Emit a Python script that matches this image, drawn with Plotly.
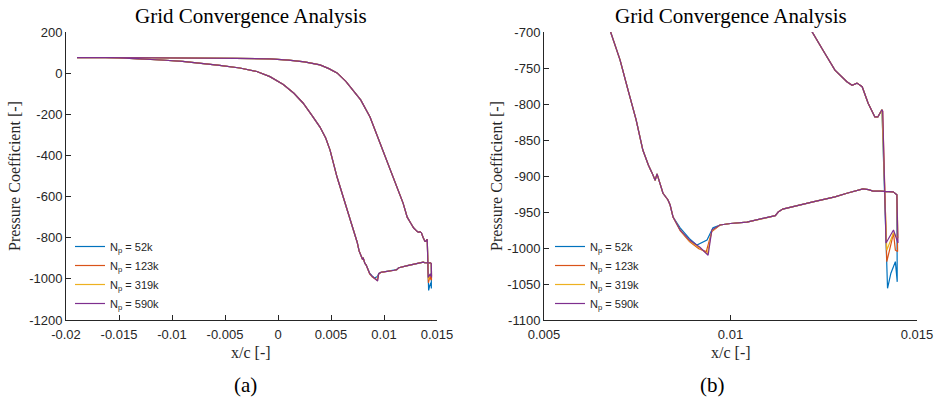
import plotly.graph_objects as go

# ---------------- data ----------------
SERIES_NAMES = ["N<sub>p</sub> = 52k", "N<sub>p</sub> = 123k", "N<sub>p</sub> = 319k", "N<sub>p</sub> = 590k"]
SERIES_COLORS = ["#0072BD", "#D95319", "#EDB120", "#7E2F8E"]

# lower branch, leading edge -> start of shock foot (shared by all grids)
A_FRONT_X = [-0.01896, -0.0175, -0.015, -0.0125, -0.011, -0.009, -0.0074, -0.0055, -0.0036, -0.002,
             -0.00076, 0.0005, 0.0015, 0.00236, 0.0032, 0.00396, 0.0045, 0.00491, 0.00557, 0.0062,
             0.0068, 0.00704, 0.00725, 0.00747, 0.00765, 0.0078, 0.0079, 0.00798, 0.00803, 0.00808,
             0.00819, 0.00832, 0.00838, 0.00846]
A_FRONT_CP = [75, 76, 74, 70, 64, 57, 49, 38, 25, 8,
              -17, -55, -98, -145, -205, -262, -315, -374, -505, -610,
              -700, -739, -780, -822, -864, -885, -896, -906, -897, -906,
              -924, -933, -940, -957]

# lower branch, shock region (grid dependent)
A_SHOCK_X = [
    [0.00865, 0.0089, 0.0091, 0.00937, 0.00953],
    [0.00865, 0.0089, 0.00915, 0.00935, 0.0095],
    [0.00865, 0.0089, 0.00918, 0.00938, 0.0095],
    [0.00865, 0.0089, 0.00918, 0.0094, 0.0095],
]
A_SHOCK_CP = [
    [-972, -987, -996, -989, -972],
    [-976, -991, -1001, -1005, -977],
    [-975, -990, -1000, -1008, -976],
    [-975, -989, -999, -1010, -975],
]

# lower branch, aft part (shared)
A_AFT_X = [0.00972, 0.0100, 0.01044, 0.01098, 0.0112, 0.01128, 0.0114, 0.01221, 0.0128, 0.01312,
           0.01355, 0.0137, 0.01382, 0.01401, 0.01425, 0.01436, 0.01446]
A_AFT_CP = [-968, -966, -964, -958, -955, -950, -946, -936, -929, -924,
            -918, -919, -921, -921, -921, -922, -926]

# trailing edge (grid dependent)
TE_X = [
    [0.01447, 0.01442, 0.0143, 0.01421],
    [0.01448, 0.01442, 0.01437, 0.0143, 0.01419],
    [0.01449, 0.01442, 0.01437, 0.01419],
    [0.01449, 0.01437, 0.01417],
]
TE_CP = [
    [-1047, -1019, -1035, -1056],
    [-1005, -1003, -979, -995, -1019],
    [-986, -983, -979, -1003],
    [-993, -975, -993],
]

# upper branch, trailing edge -> leading edge (shared)
B_X = [0.01408, 0.01406, 0.01395, 0.01387, 0.01369, 0.01353, 0.01339, 0.01326, 0.01312, 0.0128,
       0.0125, 0.01219, 0.0118, 0.01085, 0.0099, 0.00868, 0.0078, 0.00708, 0.0064, 0.00557,
       0.0048, 0.00396, 0.0025, 0.001, -0.00076, -0.004, -0.008, -0.012, -0.016, -0.01896]
B_CP = [-810, -808, -818, -818, -799, -776, -771, -774, -769, -753,
        -727, -700, -632, -505, -374, -213, -130, -82, -40, 1,
        22, 40, 55, 63, 69, 72, 74, 75, 76, 75]

X_TICKS_A = [-0.02, -0.015, -0.01, -0.005, 0, 0.005, 0.01, 0.015]
X_TICKTEXT_A = ["-0.02", "-0.015", "-0.01", "-0.005", "0", "0.005", "0.01", "0.015"]
Y_TICKS_A = [200, 0, -200, -400, -600, -800, -1000, -1200]
Y_TICKTEXT_A = ["200", "0", "-200", "-400", "-600", "-800", "-1000", "-1200"]
X_TICKS_B = [0.005, 0.01, 0.015]
X_TICKTEXT_B = ["0.005", "0.01", "0.015"]
Y_TICKS_B = [-700, -750, -800, -850, -900, -950, -1000, -1050, -1100]
Y_TICKTEXT_B = ["-700", "-750", "-800", "-850", "-900", "-950", "-1000", "-1050", "-1100"]

# ---------------- figure ----------------
W, H = 940, 406
fig = go.Figure()

for i, (name, col) in enumerate(zip(SERIES_NAMES, SERIES_COLORS)):
    xs = A_FRONT_X + A_SHOCK_X[i] + A_AFT_X + TE_X[i] + B_X
    ys = A_FRONT_CP + A_SHOCK_CP[i] + A_AFT_CP + TE_CP[i] + B_CP
    fig.add_trace(go.Scatter(x=xs, y=ys, mode="lines", name=name,
                             line=dict(color=col, width=1.2),
                             xaxis="x", yaxis="y", legend="legend"))
    fig.add_trace(go.Scatter(x=xs, y=ys, mode="lines", name=name,
                             line=dict(color=col, width=1.2),
                             xaxis="x2", yaxis="y2", legend="legend2"))

TICKFONT = dict(family="Liberation Sans, Arial, sans-serif", size=13, color="#262626")
SERIF = "Liberation Serif, Times New Roman, serif"
AX = dict(showgrid=False, zeroline=False, showline=True, linecolor="#262626", linewidth=1,
          ticks="inside", ticklen=5, tickcolor="#262626", tickfont=TICKFONT, mirror=False,
          automargin=False)

y_bot = 1 - 320 / H
y_top = 1 - 32 / H
LEGFONT = dict(family="Liberation Sans, Arial, sans-serif", size=11, color="#262626")

fig.update_layout(
    width=W, height=H,
    margin=dict(l=0, r=0, t=0, b=0, pad=0, autoexpand=False),
    paper_bgcolor="white", plot_bgcolor="white",
    xaxis=dict(domain=[66 / W, 437 / W], range=[-0.02, 0.015], tickvals=X_TICKS_A,
               ticktext=X_TICKTEXT_A, anchor="y", ticklabelstandoff=2, **AX),
    yaxis=dict(domain=[y_bot, y_top], range=[-1200, 200], tickvals=Y_TICKS_A,
               ticktext=Y_TICKTEXT_A, anchor="x", **AX),
    xaxis2=dict(domain=[544 / W, 917 / W], range=[0.005, 0.015], tickvals=X_TICKS_B,
                ticktext=X_TICKTEXT_B, anchor="y2", ticklabelstandoff=2, **AX),
    yaxis2=dict(domain=[y_bot, y_top], range=[-1100, -700], tickvals=Y_TICKS_B,
                ticktext=Y_TICKTEXT_B, anchor="x2", **AX),
    legend=dict(x=70 / W, y=1 - 232 / H, xanchor="left", yanchor="top",
                bgcolor="rgba(0,0,0,0)", borderwidth=0, font=LEGFONT),
    legend2=dict(x=550 / W, y=1 - 232 / H, xanchor="left", yanchor="top",
                 bgcolor="rgba(0,0,0,0)", borderwidth=0, font=LEGFONT),
    showlegend=True,
)

annotations = []
for cx in [(66 + 437) / 2 / W, (544 + 917) / 2 / W]:
    annotations.append(dict(text="Grid Convergence Analysis", x=cx, y=1 - 16 / H, xref="paper",
                            yref="paper", xanchor="center", yanchor="middle", showarrow=False,
                            font=dict(family=SERIF, size=21, color="black")))
    annotations.append(dict(text="x/c [-]", x=cx, y=1 - 352 / H, xref="paper", yref="paper",
                            xanchor="center", yanchor="middle", showarrow=False,
                            font=dict(family=SERIF, size=16, color="#262626")))
for cx in [14 / W, 496 / W]:
    annotations.append(dict(text="Pressure Coefficient [-]", x=cx, y=1 - 176 / H, xref="paper",
                            yref="paper", xanchor="center", yanchor="middle", showarrow=False,
                            textangle=-90, font=dict(family=SERIF, size=16, color="#262626")))
for txt, cx in [("(a)", 245 / W), ("(b)", 712 / W)]:
    annotations.append(dict(text=txt, x=cx, y=1 - 385 / H, xref="paper", yref="paper",
                            xanchor="center", yanchor="middle", showarrow=False,
                            font=dict(family=SERIF, size=21, color="black")))
fig.update_layout(annotations=annotations)

fig.write_html("out.html")
